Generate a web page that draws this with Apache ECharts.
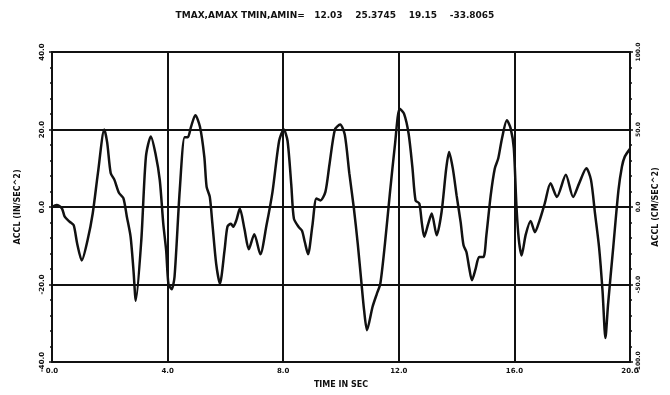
<!DOCTYPE html>
<html>
<head>
<meta charset="utf-8">
<script src="https://cdn.jsdelivr.net/npm/echarts@6/dist/echarts.min.js"></script>
<style>
  html, body { margin: 0; padding: 0; background: #fff; }
  #chart { width: 670px; height: 395px; }
</style>
</head>
<body>
<div id="chart"></div>
<script>
// time (sec) and acceleration (in/sec^2)
const timeSec = [
  0, 0.16, 0.34, 0.44, 0.61, 0.75, 0.87, 1.03, 1.23, 1.41, 1.59, 1.81, 1.91, 2.03, 2.16, 2.32, 2.47, 2.59, 2.72, 2.82,
  2.90, 3.09, 3.25, 3.42, 3.58, 3.73, 3.85, 3.95, 4.03, 4.14, 4.24, 4.42, 4.59, 4.70, 4.81, 4.96, 5.12, 5.27, 5.35, 5.46,
  5.55, 5.68, 5.81, 5.97, 6.07, 6.19, 6.27, 6.38, 6.50, 6.66, 6.81, 7.00, 7.21, 7.42, 7.63, 7.86, 8.02, 8.15, 8.28, 8.37,
  8.54, 8.65, 8.75, 8.86, 9.01, 9.15, 9.29, 9.46, 9.60, 9.79, 9.97, 10.13, 10.29, 10.44, 10.58, 10.72, 10.80, 10.90, 11.09, 11.24,
  11.36, 11.52, 11.69, 11.87, 12.03, 12.18, 12.34, 12.47, 12.58, 12.71, 12.80, 12.88, 13.02, 13.14, 13.31, 13.48, 13.64, 13.74, 13.87, 14.00,
  14.14, 14.24, 14.34, 14.44, 14.53, 14.66, 14.78, 14.93, 15.03, 15.18, 15.32, 15.44, 15.57, 15.74, 15.87, 15.98, 16.07, 16.15, 16.25, 16.39,
  16.56, 16.71, 16.87, 17.05, 17.25, 17.47, 17.78, 18.03, 18.24, 18.49, 18.65, 18.79, 18.93, 19.05, 19.15, 19.24, 19.42, 19.60, 19.72, 19.82,
  20.0
];
const accel = [
  0, 0.5, -0.3, -2.5, -3.8, -4.7, -9.4, -13.8, -8.6, -1.6, 8.8, 20.0, 16.6, 8.8, 7.0, 3.6, 2.3, -2.5, -7.7, -16.4,
  -24.2, -8.6, 13.0, 18.2, 13.8, 6.9, -4.3, -11.2, -19.9, -21.2, -18.0, 4.3, 18.0, 18.0, 20.7, 23.7, 20.7, 13.0, 5.2, 2.6,
  -4.3, -14.6, -19.8, -11.2, -5.1, -4.3, -5.1, -3.4, -0.4, -5.7, -10.9, -7.0, -12.2, -4.8, 3.9, 17.1, 20.0, 17.1, 5.7, -3.0,
  -5.2, -6.1, -9.1, -12.2, -4.8, 2.2, 1.7, 3.9, 10.9, 20.0, 21.3, 18.7, 8.6, 0, -9.5, -20.6, -26.7, -31.8, -25.8, -22.4,
  -19.8, -9.5, 3.4, 16.3, 25.3745, 24.1, 18.9, 10.3, 1.7, 0.9, -4.3, -7.7, -4.3, -1.7, -7.3, -1.3, 9.9, 14.2, 9.9, 3.0,
  -3.9, -9.9, -11.6, -15.9, -18.9, -15.9, -12.9, -12.9, -7.3, 3.0, 9.9, 12.5, 17.7, 22.4, 20.3, 15.1, 0.4, -8.2, -12.5, -7.2,
  -3.6, -6.5, -3.5, 0.9, 6.1, 2.6, 8.3, 2.6, 6.1, 10.0, 7.0, -1.7, -10.4, -21.7, -33.8065, -25.2, -10.4, 4.3, 10.4, 13.0,
  15.0
];
const xTicks = [0, 4, 8, 12, 16, 20];
const leftTicks = [-40, -20, 0, 20, 40];
const rightTicks = [-100, -50, 0, 50, 100];

const titleText = 'TMAX,AMAX TMIN,AMIN=   12.03    25.3745    19.15    -33.8065';

const ink = '#111';
const font = 'DejaVu Sans';

const chart = echarts.init(document.getElementById('chart'), null, { renderer: 'canvas' });

chart.setOption({
  backgroundColor: '#fff',
  animation: false,
  title: {
    text: titleText,
    left: 'center',
    top: 6,
    textStyle: { fontFamily: font, fontSize: 9, fontWeight: 'bold', color: ink }
  },
  grid: {
    left: 52, right: 40, top: 52, bottom: 33,
    show: true, borderColor: ink, borderWidth: 2
  },
  xAxis: {
    type: 'value',
    min: xTicks[0],
    max: xTicks[xTicks.length - 1],
    interval: 4,
    name: 'TIME IN SEC',
    nameLocation: 'middle',
    nameGap: 19,
    nameTextStyle: { fontFamily: font, fontSize: 8, fontWeight: 'bold', color: ink },
    axisLine: { lineStyle: { color: ink, width: 2 } },
    axisTick: { show: true, inside: true, length: 4, lineStyle: { color: ink, width: 1.5 } },
    axisLabel: {
      fontFamily: font, fontSize: 7, fontWeight: 'bold', color: ink, margin: 6,
      formatter: v => v.toFixed(1)
    },
    splitLine: { show: true, lineStyle: { color: ink, width: 2 } }
  },
  yAxis: [
    {
      type: 'value',
      min: leftTicks[0],
      max: leftTicks[leftTicks.length - 1],
      interval: 20,
      name: 'ACCL (IN/SEC^2)',
      nameLocation: 'middle',
      nameGap: 30,
      nameRotate: 90,
      nameTextStyle: { fontFamily: font, fontSize: 8, fontWeight: 'bold', color: ink },
      axisLine: { show: true, lineStyle: { color: ink, width: 2 } },
      axisTick: { show: true, length: 3, lineStyle: { color: ink, width: 1.5 } },
      minorTick: { show: true, splitNumber: 5, length: 2, lineStyle: { color: ink, width: 1.5 } },
      axisLabel: {
        fontFamily: font, fontSize: 7, fontWeight: 'bold', color: ink, rotate: 90, margin: 6,
        formatter: v => v.toFixed(1)
      },
      splitLine: { show: true, lineStyle: { color: ink, width: 2 } }
    },
    {
      type: 'value',
      min: rightTicks[0],
      max: rightTicks[rightTicks.length - 1],
      interval: 50,
      position: 'right',
      name: 'ACCL (CM/SEC^2)',
      nameLocation: 'middle',
      nameGap: 22,
      nameRotate: 90,
      nameTextStyle: { fontFamily: font, fontSize: 8, fontWeight: 'bold', color: ink },
      axisLine: { show: true, lineStyle: { color: ink, width: 2 } },
      axisTick: { show: true, length: 3, lineStyle: { color: ink, width: 1.5 } },
      minorTick: { show: true, splitNumber: 5, length: 2, lineStyle: { color: ink, width: 1.5 } },
      axisLabel: {
        fontFamily: font, fontSize: 6, fontWeight: 'bold', color: ink, rotate: 90, margin: 5,
        formatter: v => v.toFixed(1)
      },
      splitLine: { show: false }
    }
  ],
  series: [
    {
      name: 'ACCL',
      type: 'line',
      yAxisIndex: 0,
      data: timeSec.map((t, i) => [t, accel[i]]),
      showSymbol: false,
      smooth: 0.25,
      lineStyle: { color: ink, width: 2.5 }
    }
  ]
});
</script>
</body>
</html>
